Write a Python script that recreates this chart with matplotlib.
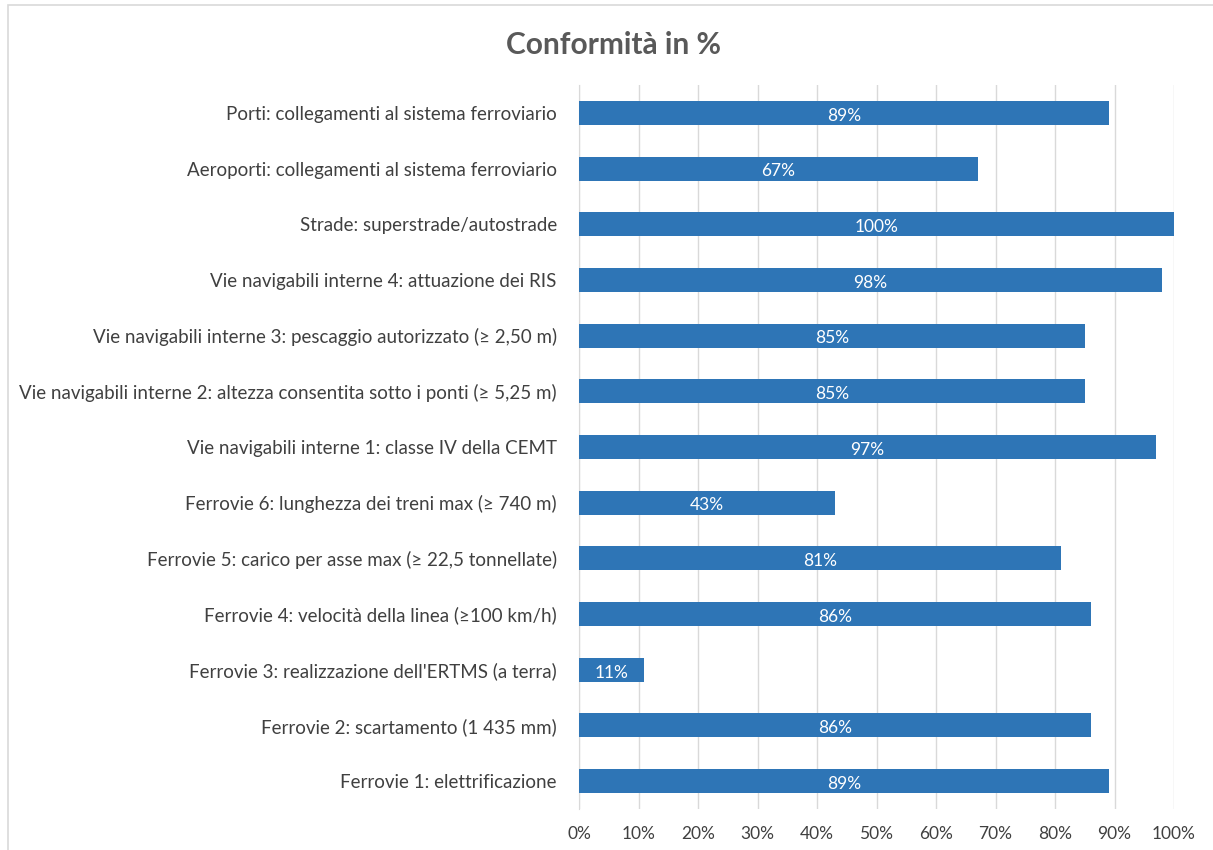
import matplotlib.pyplot as plt
from matplotlib.patches import Rectangle
from matplotlib.ticker import PercentFormatter

categorie = [
    "Ferrovie 1: elettrificazione",
    "Ferrovie 2: scartamento (1 435 mm)",
    "Ferrovie 3: realizzazione dell'ERTMS (a terra)",
    "Ferrovie 4: velocità della linea (≥100 km/h)",
    "Ferrovie 5: carico per asse max (≥ 22,5 tonnellate)",
    "Ferrovie 6: lunghezza dei treni max (≥ 740 m)",
    "Vie navigabili interne 1: classe IV della CEMT",
    "Vie navigabili interne 2: altezza consentita sotto i ponti (≥ 5,25 m)",
    "Vie navigabili interne 3: pescaggio autorizzato (≥ 2,50 m)",
    "Vie navigabili interne 4: attuazione dei RIS",
    "Strade: superstrade/autostrade",
    "Aeroporti: collegamenti al sistema ferroviario",
    "Porti: collegamenti al sistema ferroviario",
]
conformita = [89, 86, 11, 86, 81, 43, 97, 85, 85, 98, 100, 67, 89]

plt.rcParams['font.family'] = ['Lato', 'DejaVu Sans']

fig = plt.figure(figsize=(12.13, 8.5), dpi=100)
ax = fig.add_axes([579 / 1213, 41 / 850, 595 / 1213, 724 / 850])

# cornice grigia attorno al grafico
fig.patches.append(Rectangle((8 / 1213, -0.01), 1.1, 1 - 5 / 850 + 0.01, transform=fig.transFigure,
                             fill=False, edgecolor='#d9d9d9', linewidth=1.2))

barre = ax.barh(range(len(categorie)), conformita, height=0.43, color='#2e75b6', zorder=3)
for b, v in zip(barre, conformita):
    ax.text(b.get_width() / 2, b.get_y() + b.get_height() / 2 - 0.05, f"{v}%",
            ha='center', va='center', color='white', fontsize=12.5, zorder=4)

ax.set_xlim(0, 100)
ax.set_ylim(-0.5, len(categorie) - 0.5)
ax.set_xticks(range(0, 101, 10))
ax.xaxis.set_major_formatter(PercentFormatter(decimals=0))
ax.set_yticks(range(len(categorie)))
ax.set_yticklabels(categorie)
ax.grid(axis='x', color='#d9d9d9', linewidth=1, zorder=0)
for s in ['top', 'right', 'bottom']:
    ax.spines[s].set_visible(False)
ax.spines['left'].set_color('#d9d9d9')
ax.tick_params(axis='both', length=0, labelcolor='#404040')
ax.tick_params(axis='y', pad=16, labelsize=13.5)
ax.tick_params(axis='x', pad=12, labelsize=12.5)

fig.text(613 / 1213, 1 - 45 / 850, "Conformità in %", ha='center', va='center',
         fontsize=21.5, fontweight='bold', color='#595959')

fig.savefig("out.png", dpi=100)
